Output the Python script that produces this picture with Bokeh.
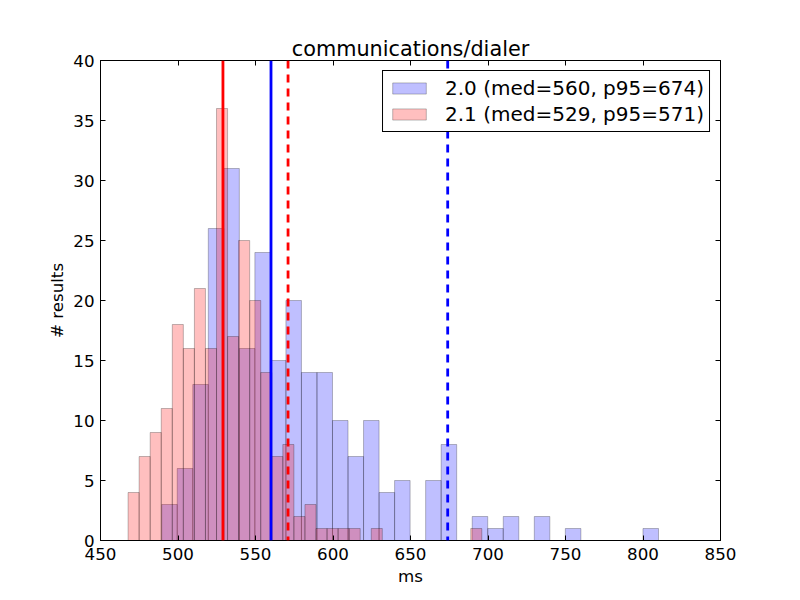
import numpy as np
from bokeh.plotting import figure
from bokeh.models import Range1d, LinearAxis, FixedTicker, Span, Legend, LegendItem, ColumnDataSource
from bokeh.embed import file_html
from bokeh.resources import INLINE

# ---- data ----
title_text = "communications/dialer"
x_label = "ms"
y_label = "# results"

n_bins = 32
blue_range = (489.5, 810.0)   # 2.0 histogram extent
red_range = (467.8, 696.0)    # 2.1 histogram extent

blue_counts = [3, 6, 13, 26, 31, 16, 24, 15, 20, 14, 14, 10, 7, 10, 4, 5,
               0, 5, 8, 0, 2, 1, 2, 0, 2, 0, 1, 0, 0, 0, 0, 1]
red_counts = [4, 7, 9, 11, 18, 16, 21, 16, 36, 17, 25, 20, 14, 7, 8, 2,
              3, 1, 1, 1, 1, 0, 1, 0, 0, 0, 0, 0, 0, 0, 0, 1]

blue_med, blue_p95 = 560, 674
red_med, red_p95 = 529, 571
blue_label = "2.0 (med=560, p95=674)"
red_label = "2.1 (med=529, p95=571)"

x_ticks = [450, 500, 550, 600, 650, 700, 750, 800, 850]
y_ticks = [0, 5, 10, 15, 20, 25, 30, 35, 40]

FONT = "DejaVu Sans"

def hist_source(rng, counts):
    edges = np.linspace(rng[0], rng[1], n_bins + 1)
    return ColumnDataSource(dict(left=edges[:-1], right=edges[1:],
                                 top=counts, bottom=[0] * len(counts)))

p = figure(frame_width=620, frame_height=480,
           x_range=Range1d(x_ticks[0], x_ticks[-1]), y_range=Range1d(y_ticks[0], y_ticks[-1]),
           output_backend="svg", toolbar_location=None,
           min_border_left=100, min_border_right=72, min_border_top=60, min_border_bottom=52,
           title=title_text)
p.background_fill_color = "white"
p.border_fill_color = "white"
p.outline_line_color = "black"
p.outline_line_width = 1
p.grid.visible = False

p.title.align = "center"
p.title.text_font = FONT
p.title.text_font_size = "20.8px"
p.title.text_font_style = "normal"
p.title.text_color = "black"
p.title.standoff = 0

def style_axis(ax, ticks, labels=True):
    ax.ticker = FixedTicker(ticks=ticks)
    ax.major_tick_in = 5
    ax.major_tick_out = 0
    ax.minor_tick_line_color = None
    ax.axis_line_color = "black"
    ax.major_tick_line_color = "black"
    ax.major_label_text_font = FONT
    ax.major_label_text_font_size = "16.7px"
    ax.major_label_text_color = "black"
    ax.axis_label_text_font = FONT
    ax.axis_label_text_font_size = "16.7px"
    ax.axis_label_text_font_style = "normal"
    ax.axis_label_text_color = "black"
    if not labels:
        ax.major_label_overrides = {t: "" for t in ticks}
        ax.major_label_standoff = 0

style_axis(p.xaxis[0], x_ticks)
style_axis(p.yaxis[0], y_ticks)
p.xaxis[0].axis_label = x_label
p.yaxis[0].axis_label = y_label
p.xaxis[0].major_label_standoff = 7
p.xaxis[0].axis_label_standoff = 3
p.yaxis[0].major_label_standoff = 6
p.yaxis[0].axis_label_standoff = 3

top_ax = LinearAxis()
style_axis(top_ax, x_ticks, labels=False)
p.add_layout(top_ax, "above")
right_ax = LinearAxis()
style_axis(right_ax, y_ticks, labels=False)
p.add_layout(right_ax, "right")

blue_src = hist_source(blue_range, blue_counts)
red_src = hist_source(red_range, red_counts)

r_blue = p.quad(left="left", right="right", top="top", bottom="bottom", source=blue_src,
                fill_color="#0000ff", fill_alpha=0.25, line_color="black", line_alpha=0.25, line_width=1)
r_red = p.quad(left="left", right="right", top="top", bottom="bottom", source=red_src,
               fill_color="#ff0000", fill_alpha=0.25, line_color="black", line_alpha=0.25, line_width=1)

for loc, color, dash in [(red_med, "#ff0000", "solid"), (blue_med, "#0000ff", "solid"),
                         (red_p95, "#ff0000", "8 6"), (blue_p95, "#0000ff", "8 6")]:
    p.add_layout(Span(location=loc, dimension="height", line_color=color,
                      line_width=2.8, line_dash=dash))

legend = Legend(items=[LegendItem(label=blue_label, renderers=[r_blue]),
                       LegendItem(label=red_label, renderers=[r_red])],
                location="top_right")
legend.label_text_font = FONT
legend.label_text_font_size = "20px"
legend.label_text_color = "black"
legend.glyph_width = 42
legend.glyph_height = 14
legend.label_standoff = 15
legend.padding = 5
legend.spacing = 2
legend.margin = 10
legend.border_line_color = "black"
legend.border_line_alpha = 1
legend.border_line_width = 1
legend.background_fill_color = "white"
legend.background_fill_alpha = 1
p.add_layout(legend)

open("out.html", "w").write(file_html(p, INLINE))
